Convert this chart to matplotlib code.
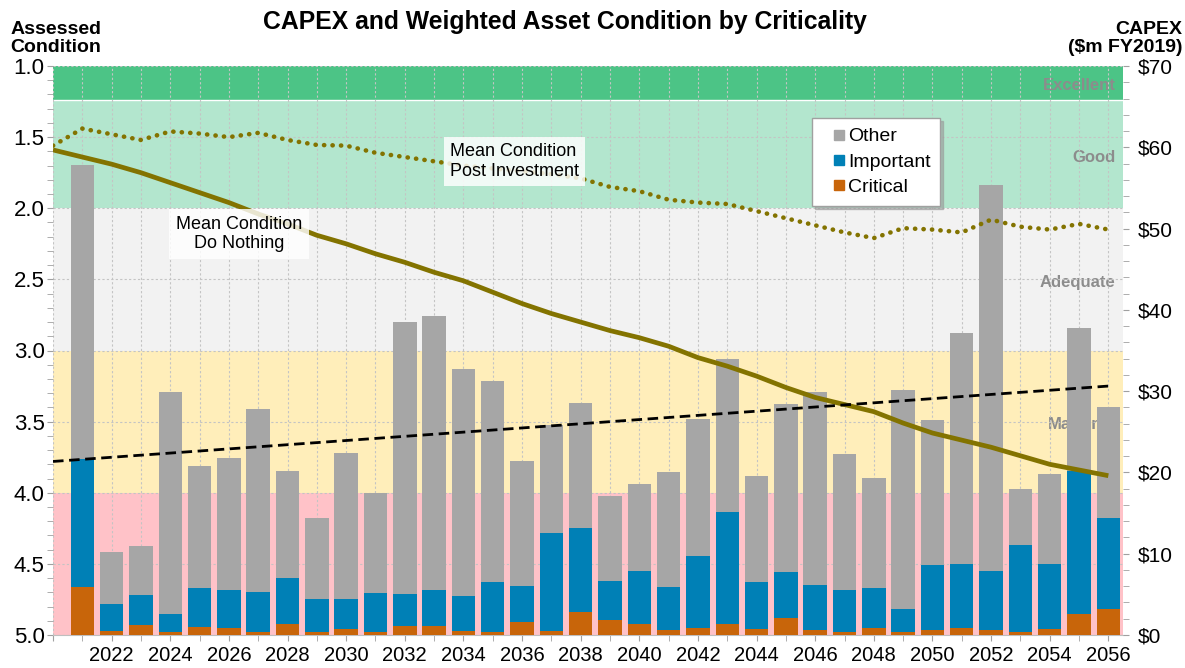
import matplotlib.pyplot as plt
from matplotlib.lines import Line2D
from matplotlib.ticker import MultipleLocator, FuncFormatter

plt.rcParams['font.family'] = ['Liberation Sans', 'DejaVu Sans']

# CAPEX ($m FY2019) by criticality, stacked bars
bar_years = list(range(2021, 2057))
critical = [5.85, 0.53, 1.23, 0.33, 1.0, 0.82, 0.33, 1.3, 0.33, 0.7, 0.33, 1.1,
            1.1, 0.53, 0.33, 1.64, 0.53, 2.86, 1.8, 1.3, 0.6, 0.9, 1.3, 0.73,
            2.1, 0.6, 0.4, 0.8, 0.4, 0.6, 0.8, 0.6, 0.4, 0.73, 2.6, 3.2]
important = [15.85, 3.31, 3.64, 2.2, 4.8, 4.74, 4.97, 5.7, 4.13, 3.76, 4.87, 3.9,
             4.4, 4.21, 6.17, 4.36, 12.07, 10.34, 4.9, 6.54, 5.36, 8.8, 13.8, 5.77,
             5.6, 5.6, 5.1, 5.04, 2.8, 8.05, 7.9, 7.24, 10.66, 7.97, 17.6, 11.2]
other = [36.1, 6.36, 6.03, 27.37, 15.05, 16.19, 22.5, 13.15, 9.94, 17.94, 12.25, 33.5,
         33.7, 27.96, 24.7, 15.4, 13.2, 15.3, 10.4, 10.71, 14.04, 16.9, 18.8, 13.1,
         20.75, 23.65, 16.8, 13.51, 26.9, 17.85, 28.4, 47.46, 6.94, 11.05, 17.6, 13.7]

# mean assessed condition (1 = excellent, 5 = poor)
line_years = list(range(2020, 2057))
do_nothing = [1.59, 1.64, 1.69, 1.75, 1.82, 1.89, 1.96, 2.04, 2.11, 2.19, 2.25, 2.32,
              2.38, 2.45, 2.51, 2.59, 2.67, 2.74, 2.80, 2.86, 2.91, 2.97, 3.05, 3.11,
              3.18, 3.26, 3.33, 3.38, 3.43, 3.51, 3.58, 3.63, 3.68, 3.74, 3.80, 3.84, 3.88]
post_investment = [1.56, 1.44, 1.48, 1.52, 1.46, 1.475, 1.50, 1.47, 1.52, 1.555, 1.56, 1.61,
                   1.64, 1.67, 1.70, 1.72, 1.74, 1.76, 1.79, 1.85, 1.88, 1.94, 1.96, 1.97,
                   2.02, 2.07, 2.12, 2.17, 2.21, 2.14, 2.15, 2.17, 2.08, 2.13, 2.15, 2.11, 2.15]

trend_years = [2020, 2056]
trend_cond = [3.78, 3.25]

band_lo = [1.0, 1.24, 2.0, 3.0, 4.0]
band_hi = [1.24, 2.0, 3.0, 4.0, 5.0]
band_names = ['Excellent', 'Good', 'Adequate', 'Marginal', '']
band_colors = ['#4CC486', '#B3E6CE', '#F2F2F2', '#FFEEBA', '#FFC2C8']

c_other, c_imp, c_crit = '#A6A6A6', '#0080B6', '#C8650A'
olive = '#837300'

fig = plt.figure(figsize=(11.85, 6.68), dpi=100)
ax = fig.add_axes([53 / 1185, 1 - 635 / 668, 1070 / 1185, 569 / 668])
ax2 = ax.twinx()
ax3 = ax.twinx()

# condition bands and their labels (behind the bars)
for lo, hi, name, col in zip(band_lo, band_hi, band_names, band_colors):
    ax.axhspan(lo, hi, color=col, lw=0, zorder=0.5)
    ax.text(2056.25, (lo + hi) / 2 + 0.02, name, ha='right', va='center',
            fontsize=12, fontweight='bold', color='#8C8C8C', zorder=0.8)
ax.axhline(band_hi[0], color='white', lw=1, zorder=0.6)

ax.set_xlim(2020, 2056.5)
ax.set_ylim(5, 1)
ax.set_axisbelow('line')
ax.xaxis.set_major_locator(MultipleLocator(2))
ax.xaxis.set_minor_locator(MultipleLocator(1))
ax.yaxis.set_major_locator(MultipleLocator(0.5))
ax.yaxis.set_minor_locator(MultipleLocator(0.1))
ax.yaxis.set_major_formatter(FuncFormatter(lambda v, p: f'{v:.1f}'))
ax.xaxis.set_major_formatter(FuncFormatter(lambda v, p: '' if v < 2022 else f'{int(v)}'))
ax.grid(axis='x', which='both', color='#C4C4C4', ls=(0, (2, 2)), lw=0.8)
ax.grid(axis='y', which='major', color='#C4C4C4', ls=(0, (2, 2)), lw=0.8)
ax.tick_params(axis='both', which='both', direction='out', length=4, color='#A0A0A0')
ax.tick_params(axis='x', which='major', pad=4, labelsize=14.5)
ax.tick_params(axis='y', which='major', pad=2, labelsize=16)

# CAPEX stacked bars
bottom_other = [c + i for c, i in zip(critical, important)]
ax2.bar(bar_years, critical, 0.8, color=c_crit, zorder=2)
ax2.bar(bar_years, important, 0.8, bottom=critical, color=c_imp, zorder=2)
ax2.bar(bar_years, other, 0.8, bottom=bottom_other, color=c_other, zorder=2)
ax2.set_ylim(0, 70)
ax2.yaxis.set_major_locator(MultipleLocator(10))
ax2.yaxis.set_minor_locator(MultipleLocator(2))
ax2.yaxis.set_major_formatter(FuncFormatter(lambda v, p: f'${int(v)}'))
ax2.tick_params(axis='y', which='both', direction='out', length=4, color='#A0A0A0',
                labelsize=15, pad=7)

# condition lines on top
ax3.set_ylim(5, 1)
ax3.set_yticks([])
ax3.plot(line_years, do_nothing, color=olive, lw=3.4, solid_capstyle='butt', zorder=3)
ax3.plot(line_years, post_investment, color=olive, lw=3.3,
         ls=(0, (0.05, 1.8)), dash_capstyle='round', zorder=3)
ax3.plot(trend_years, trend_cond, color='black', lw=2.0, ls=(0, (3.8, 2)), zorder=3)

ax3.text(2026.35, 2.18, 'Mean Condition\nDo Nothing', ha='center', va='center',
         multialignment='center', fontsize=13, zorder=4,
         bbox=dict(boxstyle='square,pad=0.38', fc='white', ec='none', alpha=0.82))
ax3.text(2033.55, 1.67, 'Mean Condition\nPost Investment', ha='left', va='center',
         multialignment='left', fontsize=13, zorder=4,
         bbox=dict(boxstyle='square,pad=0.33', fc='white', ec='none', alpha=0.82))

for a in (ax, ax2, ax3):
    for s in a.spines.values():
        s.set_visible(False)
ax.spines['bottom'].set_visible(True)
ax.spines['bottom'].set_color('#BFBFBF')

handles = [Line2D([], [], ls='none', marker='s', ms=6.8, color=c) for c in (c_other, c_imp, c_crit)]
leg = ax3.legend(handles, ['Other', 'Important', 'Critical'], loc='upper left',
                 bbox_to_anchor=(812 / 1185, 1 - 118 / 668), bbox_transform=fig.transFigure,
                 fontsize=14, frameon=True, fancybox=False,
                 shadow={'color': '#9A9A9A', 'alpha': 0.6},
                 handlelength=1.8, handletextpad=-0.45,
                 labelspacing=0.4, borderpad=0.5, borderaxespad=0)
leg.get_frame().set_edgecolor('#A0A0A0')
leg.set_zorder(5)

fig.text(0.477, 0.967, 'CAPEX and Weighted Asset Condition by Criticality', ha='center',
         va='center', fontsize=17.8, fontweight='bold')
fig.text(0.009, 0.942, 'Assessed\nCondition', ha='left', va='center', fontsize=14,
         fontweight='bold', linespacing=1.1)
fig.text(0.998, 0.942, 'CAPEX\n($m FY2019)', ha='right', va='center', fontsize=14,
         fontweight='bold', multialignment='right', linespacing=1.1)

fig.savefig('out.png', dpi=100)
